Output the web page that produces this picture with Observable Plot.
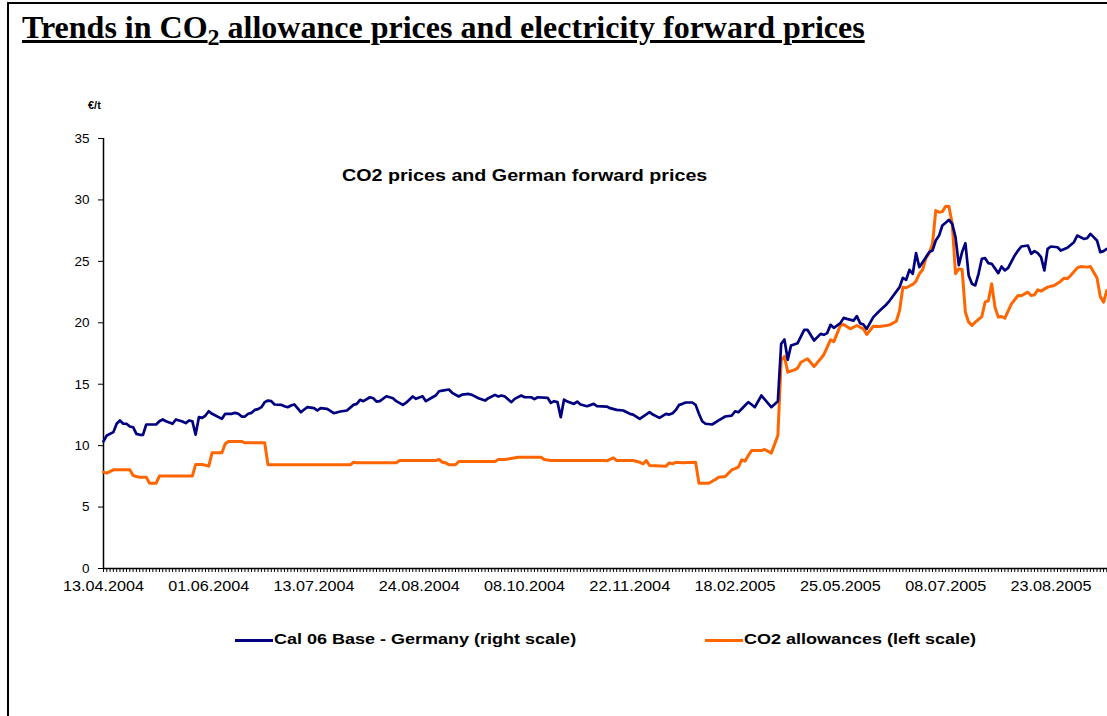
<!DOCTYPE html>
<html>
<head>
<meta charset="utf-8">
<script src="https://cdn.jsdelivr.net/npm/d3@7"></script>
<script src="https://cdn.jsdelivr.net/npm/@observablehq/plot@0.6"></script>
<style>
  html, body { margin: 0; padding: 0; background: #fff; }
  #page { position: relative; width: 1107px; height: 716px; overflow: hidden; background: #fff; }
  #frame { position: absolute; left: 7px; top: 2px; width: 1200px; height: 800px; border-left: 2px solid #000; border-top: 2px solid #000; }
  #title { position: absolute; left: 22px; top: 9px; font-family: "Liberation Serif", "Times New Roman", serif; font-weight: bold; font-size: 32px; text-decoration: underline; text-decoration-thickness: 2.5px; white-space: nowrap; color: #000; }
  #title sub { font-size: 24px; vertical-align: -7px; line-height: 0; }
  #unit { position: absolute; left: 88px; top: 99px; font-family: "Liberation Sans", Arial, sans-serif; font-weight: bold; font-size: 11px; }
  #inner { position: absolute; left: 342px; top: 167px; font-family: "Liberation Sans", Arial, sans-serif; font-weight: bold; font-size: 16px; white-space: nowrap; transform: scaleX(1.23); transform-origin: 0 0; }
  .leg { position: absolute; top: 630px; font-family: "Liberation Sans", Arial, sans-serif; font-weight: bold; font-size: 15px; white-space: nowrap; }
  .leg .sw { position: absolute; top: 9px; width: 38px; height: 3px; }
  .leg .tx { position: absolute; left: 39px; top: 0; transform: scaleX(1.2); transform-origin: 0 0; }
  #chart { position: absolute; left: 0; top: 0; }
</style>
</head>
<body>
<div id="page">
  <div id="frame"></div>
  <div id="chart"></div>
  <div id="title">Trends in CO<sub>2</sub> allowance prices and electricity forward prices</div>
  <div id="unit">€/t</div>
  <div id="inner">CO2 prices and German forward prices</div>
  <div class="leg" style="left:235px"><span class="sw" style="background:#000080"></span><span class="tx">Cal 06 Base - Germany (right scale)</span></div>
  <div class="leg" style="left:705px"><span class="sw" style="background:#ff6600"></span><span class="tx">CO2 allowances (left scale)</span></div>
</div>
<script>
// Category tick labels (every 32nd trading day)
const xLabels = ["13.04.2004","01.06.2004","13.07.2004","24.08.2004","08.10.2004","22.11.2004","18.02.2005","25.05.2005","08.07.2005","23.08.2005"];
const labelStep = 32;
const yTicks = [0,5,10,15,20,25,30,35];

// Cal 06 Base - Germany (as drawn against the left axis)
const baseIdx = [0,1,3,4,5,6,7,8,9,10,11,12,13,16,17,18,19,21,22,23,24,25,26,27,28,29,30,31,32,33,36,37,39,40,41,42,43,44,45,46,47,48,49,50,51,52,54,55,56,57,58,60,61,62,64,65,66,68,70,72,74,76,77,78,79,81,82,83,84,86,88,89,91,92,94,95,97,98,100,101,102,103,105,106,108,109,111,112,114,116,117,119,120,121,122,124,125,127,128,130,131,132,135,136,137,138,139,140,141,143,144,145,147,149,150,153,154,156,158,160,161,163,164,166,167,169,171,172,173,174,175,176,177,179,180,181,182,183,185,187,189,191,192,193,195,196,197,198,200,203,205,206,207,208,209,211,213,214,216,218,219,220,221,222,224,225,226,228,229,230,231,232,234,236,238,239,242,243,244,245,246,247,248,250,251,252,253,254,255,256,257,258,259,260,261,262,263,264,265,266,267,268,269,270,272,273,274,275,277,278,279,281,282,283,284,285,286,287,288,290,291,293,295,296,298,299,300,301,302,303,304,305];
const baseVal = [10.34,10.83,11.1,11.78,12.05,11.78,11.78,11.56,11.5,10.96,10.88,10.88,11.72,11.72,11.99,12.13,11.99,11.78,12.13,12.05,11.97,11.83,12.05,11.99,10.9,12.32,12.26,12.45,12.8,12.59,12.18,12.59,12.59,12.67,12.59,12.37,12.37,12.59,12.67,12.91,12.97,13.13,13.54,13.67,13.62,13.35,13.32,13.21,13.13,13.27,13.35,12.72,12.94,13.13,13.05,12.86,13.05,13.0,12.64,12.78,12.86,13.32,13.4,13.73,13.62,13.94,13.86,13.59,13.62,14.02,13.86,13.62,13.32,13.5,14.0,13.81,14.02,13.62,13.94,14.08,14.43,14.48,14.57,14.3,14.0,14.16,14.21,14.13,13.86,13.67,13.86,14.13,14.0,14.08,14.0,13.54,13.81,14.08,13.94,13.94,13.78,13.94,13.89,13.48,13.62,13.54,12.32,13.75,13.59,13.4,13.59,13.35,13.21,13.4,13.21,13.18,13.05,12.91,12.86,12.59,12.53,12.18,12.37,12.72,12.53,12.26,12.59,12.53,12.64,12.91,13.32,13.4,13.51,13.51,13.32,12.59,11.99,11.78,11.72,12.05,12.37,12.45,12.8,12.72,13.27,13.54,13.35,13.13,14.08,13.13,13.62,18.29,18.64,16.99,18.15,18.34,19.43,19.43,18.56,19.1,19.02,19.16,19.83,19.59,19.97,20.4,20.32,20.18,20.54,19.97,19.86,19.51,20.46,21.0,21.49,21.81,22.9,23.66,23.5,24.31,23.99,25.67,24.53,25.34,25.75,25.88,26.7,27.1,27.92,28.14,28.38,28.05,26.97,24.7,25.75,26.48,23.85,23.17,23.04,23.99,25.21,25.26,24.85,24.8,24.04,24.58,24.26,24.47,25.48,25.88,26.21,26.29,25.61,25.83,25.67,25.34,24.26,26.02,26.21,26.15,25.88,26.1,26.56,27.1,26.83,26.88,27.24,26.97,26.7,25.75,25.83,26.02];

// CO2 allowances (left scale, EUR/t)
const co2Idx = [0,1,3,8,9,10,11,13,14,16,17,27,28,30,32,33,36,37,38,42,43,49,50,75,76,77,89,90,101,102,103,104,105,107,108,119,120,122,123,126,133,134,136,152,153,155,156,161,163,164,165,166,171,172,173,174,176,180,181,184,186,187,189,191,193,194,195,196,197,200,201,203,205,206,207,208,210,211,212,214,216,218,219,220,221,222,224,225,227,229,231,232,234,236,238,239,241,242,243,244,246,247,248,249,250,251,252,253,254,255,256,257,258,259,260,261,262,263,264,265,267,268,269,270,271,272,273,274,276,278,279,281,282,283,284,285,287,289,291,292,293,294,296,297,299,300,301,302,303,304,305];
const co2Val = [7.84,7.76,8.03,8.03,7.57,7.49,7.43,7.43,6.94,6.94,7.52,7.52,8.46,8.46,8.33,9.42,9.42,10.15,10.34,10.34,10.23,10.23,8.44,8.44,8.65,8.6,8.6,8.79,8.79,8.87,8.65,8.6,8.44,8.44,8.71,8.71,8.87,8.87,8.92,9.06,9.06,8.87,8.79,8.79,8.76,9.01,8.79,8.79,8.65,8.52,8.79,8.38,8.33,8.6,8.52,8.65,8.6,8.65,6.94,6.94,7.24,7.43,7.49,8.03,8.25,8.85,8.74,9.2,9.6,9.6,9.69,9.39,10.83,16.93,17.26,15.98,16.17,16.31,16.79,17.07,16.44,17.07,17.42,18.01,18.61,18.47,19.78,19.86,19.51,19.78,19.51,19.05,19.72,19.7,19.78,19.83,20.13,21.0,22.9,22.85,23.12,23.39,23.99,24.31,25.26,25.67,26.43,29.14,29.0,29.05,29.49,29.46,28.06,23.99,24.39,24.34,20.86,20.05,19.78,20.05,20.51,21.68,21.81,23.17,21.27,20.46,20.51,20.37,21.54,22.22,22.2,22.49,22.22,22.27,22.68,22.58,22.9,23.04,23.39,23.63,23.58,23.85,24.47,24.58,24.53,24.58,24.12,23.66,22.14,21.68,22.63];

const base = baseIdx.map((i, k) => ({i, v: baseVal[k]}));
const co2 = co2Idx.map((i, k) => ({i, v: co2Val[k]}));
const labelIdx = xLabels.map((_, k) => k * labelStep);

const chart = Plot.plot({
  width: 1107,
  height: 716,
  marginTop: 138,
  marginBottom: 148,
  marginLeft: 103,
  marginRight: 0,
  x: {domain: [0, 305.2], axis: null},
  y: {domain: [0, 35], axis: null},
  style: {fontFamily: "'Liberation Sans', Arial, sans-serif", fontSize: "13px", color: "#000", background: "transparent", overflow: "visible"},
  marks: [
    Plot.axisY({ticks: yTicks, tickSize: 5, tickPadding: 9, fontSize: 13.5, label: null, stroke: "#000", strokeOpacity: 1}),
    Plot.axisX({ticks: d3.range(0, 306), tickSize: 4, label: null, tickFormat: () => "", stroke: "#000", strokeOpacity: 1, strokeWidth: 1}),
    Plot.axisX({ticks: labelIdx, tickSize: 0, tickPadding: 13, fontSize: 14, label: null, tickFormat: i => xLabels[Math.round(i / labelStep)]}),
    Plot.ruleX([0], {stroke: "#000", strokeWidth: 1.5}),
    Plot.ruleY([0], {stroke: "#000", strokeWidth: 1.5}),
    Plot.line(co2, {x: "i", y: "v", stroke: "#ff6600", strokeWidth: 3}),
    Plot.line(base, {x: "i", y: "v", stroke: "#000080", strokeWidth: 2.7})
  ]
});
d3.select(chart).selectAll('g[aria-label="x-axis tick label"] text')
  .attr("textLength", 81)
  .attr("lengthAdjust", "spacingAndGlyphs");
document.getElementById("chart").appendChild(chart);
</script>
</body>
</html>
